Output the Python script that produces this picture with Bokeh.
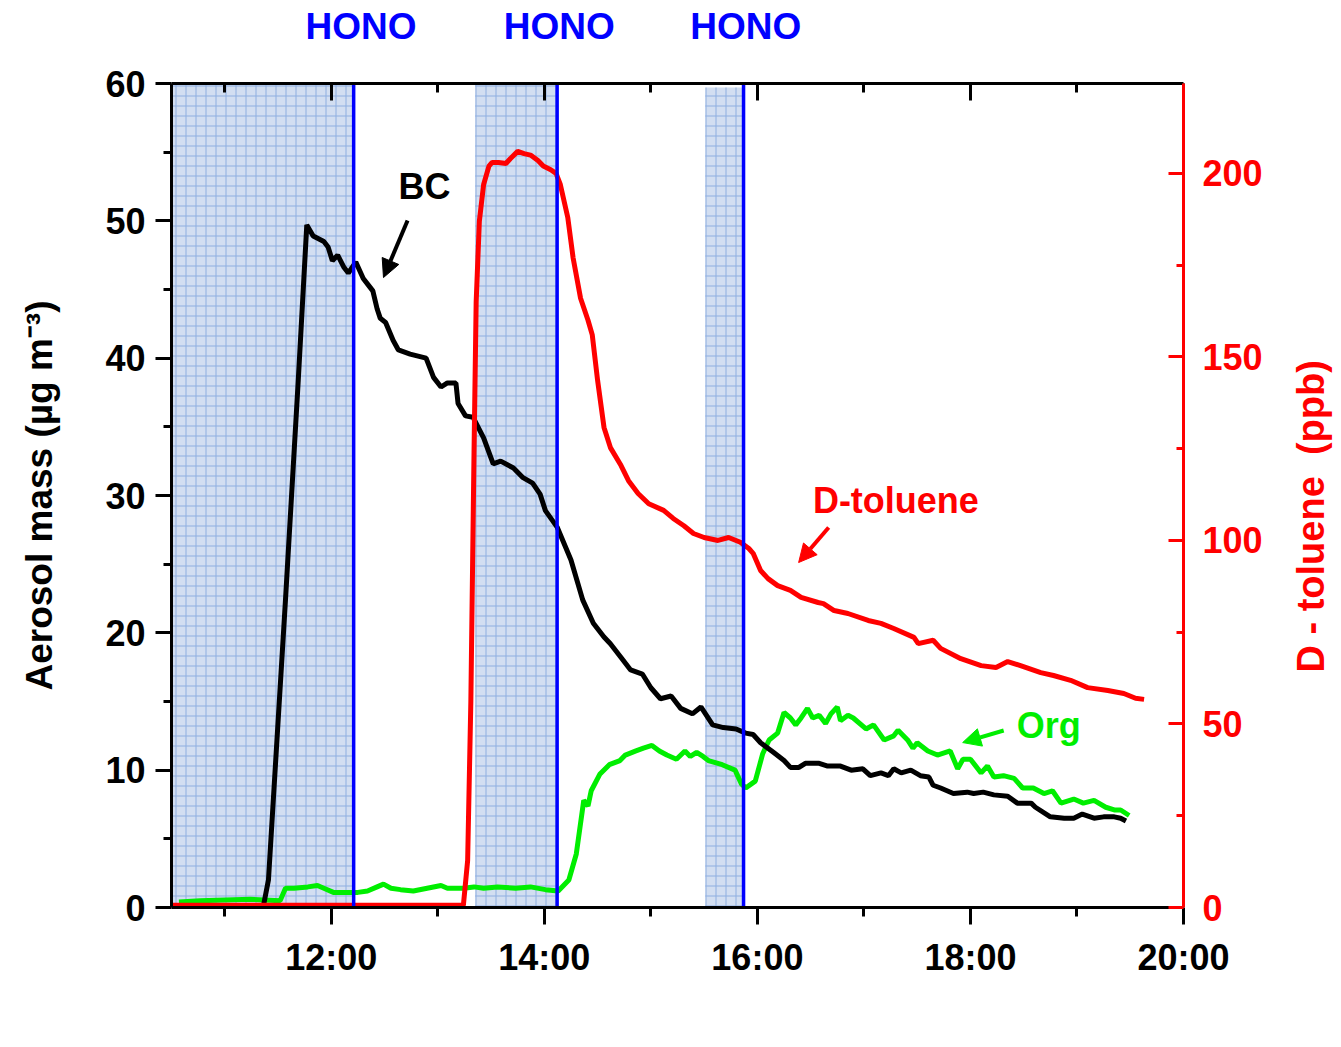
import math
from bokeh.plotting import figure
from bokeh.layouts import row
from bokeh.models import (Range1d, LinearAxis, FixedTicker, Label, Arrow, NormalHead)
from bokeh.core.properties import value
from bokeh.embed import file_html
from bokeh.resources import INLINE

# ---------------- data (time in decimal hours) ----------------
bc_time = [11.36, 11.41, 11.57, 11.69, 11.77, 11.83, 11.88, 11.93, 11.97, 12.01, 12.06, 12.12, 12.16,
           12.23, 12.30, 12.35, 12.39, 12.43, 12.46, 12.51, 12.58, 12.63, 12.74, 12.89, 12.96, 13.03,
           13.09, 13.17, 13.19, 13.26, 13.33, 13.43, 13.52, 13.59, 13.71, 13.80, 13.89, 13.96, 14.01,
           14.12, 14.25, 14.36, 14.46, 14.56, 14.62, 14.72, 14.81, 14.92, 15.00, 15.09, 15.19, 15.28,
           15.39, 15.47, 15.58, 15.68, 15.80, 15.89, 15.96, 16.03, 16.15, 16.25, 16.31, 16.39, 16.45,
           16.58, 16.66, 16.78, 16.88, 16.99, 17.06, 17.16, 17.23, 17.28, 17.35, 17.44, 17.53, 17.61,
           17.65, 17.72, 17.84, 17.97, 18.03, 18.12, 18.22, 18.35, 18.44, 18.57, 18.61, 18.75, 18.88,
           18.97, 19.05, 19.16, 19.25, 19.35, 19.41, 19.46]
bc_mass = [0.0, 2.0, 22.4, 38.4, 49.7, 48.9, 48.7, 48.5, 48.1, 47.1, 47.5, 46.6, 46.2,
           47.0, 45.8, 45.3, 44.9, 43.6, 42.9, 42.6, 41.3, 40.6, 40.3, 40.0, 38.6, 37.9,
           38.2, 38.2, 36.7, 35.8, 35.7, 34.2, 32.3, 32.5, 32.0, 31.3, 30.9, 30.1, 28.9,
           27.7, 25.3, 22.4, 20.7, 19.7, 19.2, 18.2, 17.3, 17.0, 16.0, 15.2, 15.4, 14.5,
           14.1, 14.6, 13.3, 13.1, 13.0, 12.7, 12.6, 12.0, 11.3, 10.7, 10.2, 10.2, 10.5,
           10.5, 10.3, 10.3, 10.0, 10.1, 9.6, 9.8, 9.6, 10.1, 9.8, 10.0, 9.6, 9.5,
           8.9, 8.7, 8.3, 8.4, 8.3, 8.4, 8.2, 8.1, 7.6, 7.6, 7.3, 6.6, 6.5,
           6.5, 6.8, 6.5, 6.6, 6.6, 6.5, 6.3]

org_time = [10.57, 10.77, 11.24, 11.52, 11.57, 11.65, 11.78, 11.87, 11.93, 12.02, 12.15, 12.25, 12.34,
            12.43, 12.49, 12.56, 12.65, 12.77, 12.90, 13.03, 13.09, 13.24, 13.34, 13.43, 13.56, 13.73,
            13.87, 14.01, 14.13, 14.23, 14.30, 14.37, 14.41, 14.44, 14.52, 14.61, 14.71, 14.76, 14.86,
            14.93, 15.01, 15.08, 15.15, 15.24, 15.32, 15.37, 15.43, 15.49, 15.54, 15.67, 15.79, 15.85,
            15.89, 15.98, 16.05, 16.11, 16.19, 16.25, 16.31, 16.36, 16.41, 16.47, 16.52, 16.58, 16.64,
            16.69, 16.75, 16.78, 16.85, 16.90, 17.02, 17.09, 17.19, 17.28, 17.32, 17.41, 17.46, 17.50,
            17.60, 17.69, 17.81, 17.88, 17.93, 18.00, 18.10, 18.16, 18.22, 18.31, 18.41, 18.49, 18.59,
            18.69, 18.77, 18.85, 18.97, 19.06, 19.16, 19.27, 19.35, 19.41, 19.49]
org_mass = [0.4, 0.5, 0.6, 0.5, 1.4, 1.4, 1.5, 1.6, 1.4, 1.1, 1.1, 1.1, 1.2,
            1.5, 1.7, 1.4, 1.3, 1.2, 1.4, 1.6, 1.4, 1.4, 1.5, 1.4, 1.5, 1.4,
            1.5, 1.3, 1.2, 2.0, 3.9, 7.8, 7.4, 8.5, 9.7, 10.4, 10.7, 11.1, 11.4,
            11.6, 11.8, 11.4, 11.1, 10.8, 11.4, 11.0, 11.3, 11.0, 10.7, 10.4, 10.0, 9.0,
            8.7, 9.2, 11.2, 12.2, 12.7, 14.2, 13.8, 13.3, 13.8, 14.5, 13.8, 14.0, 13.4,
            14.1, 14.6, 13.6, 14.0, 13.8, 13.0, 13.3, 12.2, 12.5, 12.9, 12.2, 11.6, 12.0,
            11.4, 11.1, 11.4, 10.1, 10.8, 10.8, 9.8, 10.3, 9.5, 9.6, 9.4, 8.7, 8.7,
            8.3, 8.5, 7.6, 7.9, 7.6, 7.8, 7.3, 7.1, 7.1, 6.7]

tol_time = [10.51, 13.24, 13.28, 13.31, 13.34, 13.36, 13.39, 13.43, 13.48, 13.51, 13.57, 13.64, 13.68,
            13.75, 13.81, 13.87, 13.94, 13.99, 14.06, 14.11, 14.15, 14.22, 14.27, 14.34, 14.41, 14.45,
            14.50, 14.56, 14.62, 14.72, 14.79, 14.88, 14.98, 15.12, 15.21, 15.31, 15.40, 15.50, 15.63,
            15.73, 15.84, 15.92, 15.96, 16.03, 16.10, 16.19, 16.31, 16.41, 16.57, 16.62, 16.72, 16.85,
            17.04, 17.16, 17.28, 17.47, 17.51, 17.65, 17.72, 17.91, 18.10, 18.24, 18.35, 18.47, 18.66,
            18.78, 18.94, 19.10, 19.29, 19.44, 19.55, 19.63]
tol_ppb = [0.6, 0.6, 12.8, 56.0, 124.0, 165.0, 187.0, 197.0, 202.0, 203.0, 203.0, 202.7, 204.0,
           206.0, 205.4, 205.0, 203.5, 202.0, 201.0, 200.0, 197.0, 188.0, 177.0, 166.0, 160.0, 156.0,
           143.6, 130.8, 125.3, 120.4, 116.3, 112.8, 110.0, 108.2, 106.0, 104.0, 101.9, 100.8, 100.0,
           100.8, 99.5, 97.8, 96.5, 91.8, 89.6, 87.7, 86.4, 84.5, 83.1, 82.8, 80.9, 80.1,
           78.2, 77.4, 76.0, 73.6, 71.9, 72.8, 70.6, 67.8, 65.9, 65.4, 67.0, 65.9, 64.0,
           63.2, 61.9, 59.9, 59.1, 58.3, 57.0, 56.7]

hono_start = [10.51, 13.35, 15.51]
hono_end = [12.21, 14.12, 15.87]
hono_top = [60.0, 60.0, 59.7]
hono_label_x = [12.28, 14.14, 15.89]
hono_label = ["HONO", "HONO", "HONO"]

x_ticks = [12, 14, 16, 18, 20]
x_tick_labels = ["12:00", "14:00", "16:00", "18:00", "20:00"]
x_minor = [11, 13, 15, 17, 19]

right_axis_title = "D - toluene\u00a0\u00a0(ppb)"

FONT = "Liberation Sans"
BLUE = "#0000ff"
RED = "#ff0000"
GREEN = "#00ee00"

LABEL_W = 51
p = figure(width=1341 - LABEL_W, height=1047, output_backend="svg", toolbar_location=None,
           x_range=Range1d(10.5, 20.0), y_range=Range1d(0, 60),
           min_border_left=171, min_border_right=107, min_border_top=83, min_border_bottom=140)
p.xaxis.visible = False
p.yaxis.visible = False
p.xgrid.visible = False
p.ygrid.visible = False
p.outline_line_color = None
p.background_fill_color = "white"
p.border_fill_color = "white"
p.extra_y_ranges = {"right": Range1d(0, 224.5)}

# shaded HONO periods
p.quad(left=hono_start, right=hono_end, bottom=[0, 0, 0], top=hono_top,
       fill_color="#d2def1", line_color=None,
       hatch_pattern="+", hatch_color="#8eaee0", hatch_scale=10, hatch_weight=1)

# curves
p.line(org_time, org_mass, line_color=GREEN, line_width=5)
p.line(bc_time, bc_mass, line_color="black", line_width=5)
p.line(tol_time, tol_ppb, line_color=RED, line_width=5, y_range_name="right")

# HONO injection lines
for xe in hono_end:
    p.line([xe, xe], [0, 60], line_color=BLUE, line_width=3.5)


def style_axis(ax, color):
    ax.axis_line_color = color
    ax.axis_line_width = 3
    ax.major_tick_line_color = color
    ax.minor_tick_line_color = color
    ax.major_tick_line_width = 3
    ax.minor_tick_line_width = 3
    ax.major_label_text_font = FONT
    ax.major_label_text_font_style = "bold"
    ax.major_label_text_font_size = "36px"
    ax.major_label_text_color = color
    ax.axis_label_text_font = FONT
    ax.axis_label_text_font_style = "bold"
    ax.axis_label_text_font_size = "37px"
    ax.axis_label_text_color = color


# bottom axis
xb = LinearAxis(ticker=FixedTicker(ticks=x_ticks, minor_ticks=x_minor),
                major_label_overrides={t: s for t, s in zip(x_ticks, x_tick_labels)})
style_axis(xb, "black")
xb.major_tick_out = 17
xb.major_tick_in = 0
xb.minor_tick_out = 9
xb.minor_tick_in = 0
xb.major_label_standoff = 12
p.add_layout(xb, "below")

# top axis (ticks only)
xt = LinearAxis(ticker=FixedTicker(ticks=x_ticks, minor_ticks=x_minor),
                major_label_overrides={t: " " for t in x_ticks})
style_axis(xt, "black")
xt.major_tick_out = 0
xt.major_tick_in = 17
xt.minor_tick_out = 0
xt.minor_tick_in = 9
xt.major_label_text_font_size = "4px"
xt.major_label_standoff = 0
p.add_layout(xt, "above")

# HONO labels: a label-only axis above the plot
xh = LinearAxis(ticker=FixedTicker(ticks=hono_label_x, minor_ticks=[]),
                major_label_overrides={t: s for t, s in zip(hono_label_x, hono_label)})
style_axis(xh, BLUE)
xh.axis_line_color = None
xh.major_tick_line_color = None
xh.minor_tick_line_color = None
xh.major_tick_out = 0
xh.major_tick_in = 0
xh.major_label_text_font_size = "37px"
xh.major_label_standoff = 29
p.add_layout(xh, "above")

# left axis
yl = LinearAxis(ticker=FixedTicker(ticks=[0, 10, 20, 30, 40, 50, 60],
                                   minor_ticks=[5, 15, 25, 35, 45, 55]),
                axis_label="Aerosol mass (µg m\u207b\u00b3)")
style_axis(yl, "black")
yl.major_tick_out = 16
yl.major_tick_in = 0
yl.minor_tick_out = 8
yl.minor_tick_in = 0
yl.major_label_standoff = 10
yl.axis_label_standoff = 42
p.add_layout(yl, "left")

# right axis (title drawn in the strip beside the plot)
yr = LinearAxis(y_range_name="right",
                ticker=FixedTicker(ticks=[0, 50, 100, 150, 200], minor_ticks=[25, 75, 125, 175]))
style_axis(yr, RED)
yr.major_tick_out = 0
yr.major_tick_in = 15
yr.minor_tick_out = 0
yr.minor_tick_in = 7
yr.major_label_standoff = 19
p.add_layout(yr, "right")


# series annotations
def annot(x, y, txt, color):
    p.add_layout(Label(x=x, y=y, text=txt, text_align="center", text_baseline="middle",
                       text_font=FONT, text_font_style="bold", text_font_size="36px",
                       text_color=color))


annot(12.876, 52.5, "BC", "black")
annot(17.30, 29.64, "D-toluene", RED)
annot(18.735, 13.25, "Org", GREEN)


def arrow(x0, y0, x1, y1, color):
    p.add_layout(Arrow(end=NormalHead(size=18, fill_color=color, line_color=color),
                       x_start=x0, y_start=y0, x_end=x1, y_end=y1,
                       line_color=color, line_width=4))


arrow(12.716, 50.03, 12.49, 45.87, "black")
arrow(16.669, 27.67, 16.387, 25.12, RED)
arrow(18.312, 12.89, 17.927, 12.01, GREEN)

# strip holding the right axis title, reading bottom-to-top
q = figure(width=LABEL_W, height=1047, output_backend="svg", toolbar_location=None,
           x_range=Range1d(0, 1), y_range=Range1d(0, 1047),
           min_border_left=0, min_border_right=0, min_border_top=0, min_border_bottom=0)
q.xaxis.visible = False
q.yaxis.visible = False
q.xgrid.visible = False
q.ygrid.visible = False
q.outline_line_color = None
q.border_fill_color = "white"
q.text(x=[0.4], y=[497], text=[right_axis_title], angle=math.pi / 2,
       text_align="center", text_baseline="middle",
       text_font=value(FONT), text_font_style="bold", text_font_size="38px",
       text_color=RED)

layout = row(p, q, spacing=0)
open("out.html", "w").write(file_html(layout, INLINE))
